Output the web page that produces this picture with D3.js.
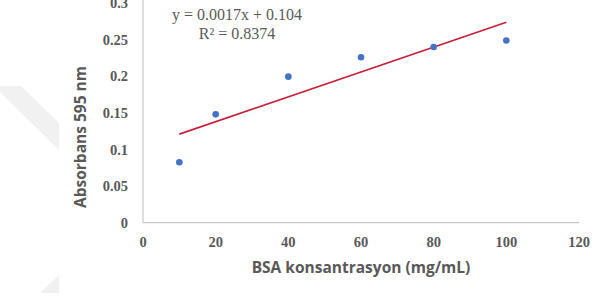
<!DOCTYPE html>
<html><head><meta charset="utf-8">
<script src="https://cdnjs.cloudflare.com/ajax/libs/d3/7.8.5/d3.min.js"></script>
<style>html,body{margin:0;padding:0;background:#fff;}svg{display:block;}</style>
</head><body>
<svg id="c" width="600" height="299"></svg>
<script>
const concentrations = [10, 20, 40, 60, 80, 100];
const absorbance = [0.0825, 0.148, 0.1995, 0.226, 0.240, 0.249];
const xTicks = [0, 20, 40, 60, 80, 100, 120];
const yTicks = [0, 0.05, 0.1, 0.15, 0.2, 0.25, 0.3];
const yTickLabels = ["0", "0.05", "0.1", "0.15", "0.2", "0.25", "0.3"];
const trendSlope = 0.0017;
const trendIntercept = 0.104;
const equationLines = ["y = 0.0017x + 0.104", "R² = 0.8374"];
const xTitle = "BSA konsantrasyon (mg/mL)";
const yTitle = "Absorbans 595 nm";

const svg = d3.select("#c");
// faint background watermark shapes
svg.append("polygon").attr("points","0,86 21,86 59,123 59,150 0,92").attr("fill","#f1f1f1");
svg.append("polygon").attr("points","40,293 59,275 59,293").attr("fill","#f1f1f1");

const x = d3.scaleLinear().domain([0, 120]).range([143, 579]);
const y = d3.scaleLinear().domain([0, 0.3]).range([222.7, 3.1]);
const grey = "#595959";

// axes lines
svg.append("line").attr("x1", x(0)).attr("x2", x(120)).attr("y1", y(0)).attr("y2", y(0))
  .attr("stroke", "#c8c8c8").attr("stroke-width", 1.2);
svg.append("line").attr("x1", x(0)).attr("x2", x(0)).attr("y1", y(0)).attr("y2", 0)
  .attr("stroke", "#c8c8c8").attr("stroke-width", 1.2);

const tickFont = "'Liberation Serif','Times New Roman',serif";
svg.append("g").selectAll("text").data(xTicks).join("text")
  .attr("x", d => x(d)).attr("y", 247).attr("text-anchor", "middle")
  .attr("font-family", tickFont).attr("font-weight", "bold").attr("font-size", 14.5)
  .attr("fill", grey).text(d => d);
svg.append("g").selectAll("text").data(yTicks).join("text")
  .attr("x", 128).attr("y", d => y(d) + 5).attr("text-anchor", "end")
  .attr("font-family", tickFont).attr("font-weight", "bold").attr("font-size", 14.5)
  .attr("fill", grey).text((d, i) => yTickLabels[i]);

// trendline
const xs = d3.extent(concentrations);
svg.append("line")
  .attr("x1", x(xs[0])).attr("y1", y(trendSlope * xs[0] + trendIntercept))
  .attr("x2", x(xs[1])).attr("y2", y(trendSlope * xs[1] + trendIntercept))
  .attr("stroke", "#c8203a").attr("stroke-width", 1.6);

// points
svg.append("g").selectAll("circle").data(concentrations).join("circle")
  .attr("cx", d => x(d)).attr("cy", (d, i) => y(absorbance[i])).attr("r", 3.3)
  .attr("fill", "#4472c4");

// equation
svg.append("g").selectAll("text").data(equationLines).join("text")
  .attr("x", 237).attr("y", (d, i) => 20 + i * 18.5).attr("text-anchor", "middle")
  .attr("font-family", tickFont).attr("font-size", 16).attr("fill", "#595959").text(d => d);

// axis titles
const titleFont = "'Open Sans','Noto Sans',sans-serif";
svg.append("text").attr("x", 361).attr("y", 273).attr("text-anchor", "middle")
  .attr("font-family", titleFont).attr("font-weight", "bold").attr("font-size", 15.5)
  .attr("fill", grey).text(xTitle);
svg.append("text").attr("transform", "translate(86,137) rotate(-90)").attr("text-anchor", "middle")
  .attr("font-family", titleFont).attr("font-weight", "bold").attr("font-size", 15.5)
  .attr("fill", grey).text(yTitle);
</script>
</body></html>
